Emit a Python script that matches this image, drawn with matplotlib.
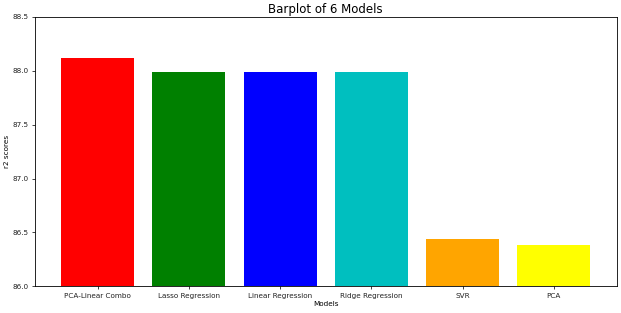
import matplotlib
matplotlib.use("Agg")
import matplotlib.pyplot as plt

# r2 scores per model
models = ['PCA-Linear Combo', 'Lasso Regression', 'Linear Regression',
          'Ridge Regression', 'SVR', 'PCA']
scores = [88.12, 87.99, 87.985, 87.985, 86.44, 86.385]
colors = ['r', 'g', 'b', 'c', 'orange', 'yellow']

fig = plt.figure(figsize=(6.21, 3.13), dpi=100)
ax = fig.add_subplot(111)
fig.subplots_adjust(left=0.056, right=0.993, top=0.946, bottom=0.085)

ax.bar(models, scores, color=colors)
ax.set_ylim(86.0, 88.5)
ax.set_title('Barplot of 6 Models', fontsize=8.5, pad=3)
ax.set_xlabel('Models', fontsize=5.2, labelpad=2)
ax.set_ylabel('r2 scores', fontsize=5.2, labelpad=2)
ax.tick_params(labelsize=5.2, length=2.5, width=0.6, pad=2, colors='#222222')
for s in ax.spines.values():
    s.set_linewidth(0.6)

plt.savefig('out.png', dpi=100)
